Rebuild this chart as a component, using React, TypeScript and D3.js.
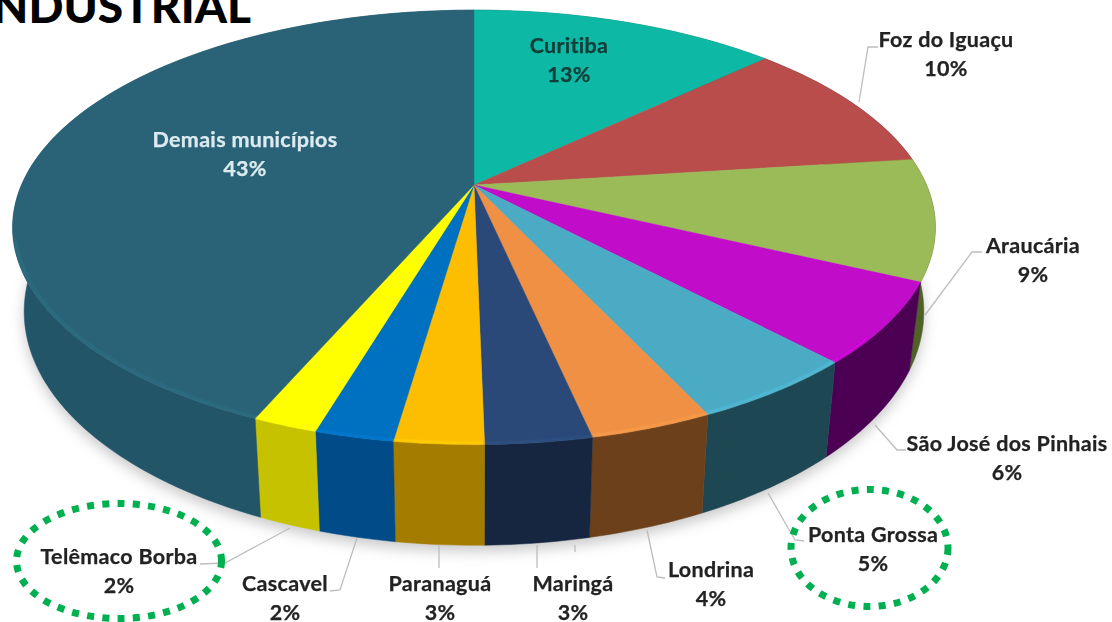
import React from "react";
import * as d3 from "d3";

const W = 1112;
const H = 622;

const municipalities = ["Curitiba", "Foz do Iguaçu", "Araucária", "São José dos Pinhais", "Ponta Grossa", "Londrina", "Maringá", "Paranaguá", "Cascavel", "Telêmaco Borba", "Demais municípios"];
const labels = ["13%", "10%", "9%", "6%", "5%", "4%", "3%", "3%", "2%", "2%", "43%"];
const shares = [13, 10, 9, 6, 5, 3.6, 3.1, 2.6, 2.3, 1.9, 43.5];
const topColors = ["#0cb9a5", "#b94e4b", "#9bbb59", "#c108c9", "#4babc5", "#f09044", "#2a4a78", "#fdbd00", "#0070c0", "#ffff00", "#2a6478"];
const wallColors = ["#08705f", "#6e2d2b", "#4f6228", "#4c0052", "#1f4653", "#6d401c", "#17263f", "#a47c00", "#004c88", "#c6c200", "#215468"];
const labelPos: [number, number][] = [[569, 53], [946, 47], [1033, 253], [1007, 451], [873, 542], [711, 577], [573, 591], [440, 591], [285, 591], [119, 564], [245, 147]];
const leaders: [number, number][][] = [
  [[859, 102], [868, 47], [878, 47]],
  [[925, 315], [972, 252], [982, 252]],
  [[875, 425], [897, 450], [906, 450]],
  [[768, 493], [795, 540], [804, 541]],
  [[647, 530], [657, 577], [665, 578]],
  [[537, 545], [537, 568]],
  [[575, 545], [575, 552]],
  [[439, 545], [439, 568]],
  [[357, 538], [340, 590], [330, 591]],
  [[290, 528], [225, 563], [200, 564]],
];
const highlights = [
  { cx: 119, cy: 561, rx: 102.5, ry: 57.5 },
  { cx: 869.5, cy: 548, rx: 78.5, ry: 58.5 },
];

const CX = 474, CY = 185, R = 452.5, B = 209, K = -0.195, DEPTH = 81, SHRINK = 0.975;

const topPoint = (a: number): [number, number] => {
  const X = Math.sin(a), Y = -Math.cos(a), f = 1 / (1 + K * Y);
  return [CX + R * X * f, CY + B * Y * f];
};
const bottomPoint = (a: number): [number, number] => {
  const Y = -Math.cos(a), f = 1 / (1 + K * Y);
  const [x, y] = topPoint(a);
  return [CX + SHRINK * (x - CX), y + DEPTH * f];
};
const samples = (a0: number, a1: number) => {
  const n = Math.max(2, Math.ceil(Math.abs(a1 - a0) / (Math.PI / 180)));
  return d3.range(n + 1).map((i) => a0 + ((a1 - a0) * i) / n);
};
const line = d3.line();

export default function App() {
  const arcs = d3.pie<number>().sort(null).startAngle(0).endAngle(2 * Math.PI)(shares);
  const textFont = "Lato, 'Noto Sans', sans-serif";
  return (
    <svg width={W} height={H} viewBox={`0 0 ${W} ${H}`} style={{ position: "absolute", left: 0, top: 0, background: "#fff" }}>
      <defs>
        <filter id="shadow" x="-10%" y="-10%" width="120%" height="120%"><feGaussianBlur stdDeviation="7" /></filter>
        <filter id="soft" x="-2%" y="-2%" width="104%" height="104%"><feGaussianBlur stdDeviation="0.6" /></filter>
        <filter id="rim" x="-5%" y="-5%" width="110%" height="110%"><feGaussianBlur stdDeviation="1.1" /></filter>
        <filter id="txt" x="-5%" y="-20%" width="110%" height="140%"><feGaussianBlur stdDeviation="0.35" /></filter>
      </defs>

      <path d={line(samples(0, 2 * Math.PI).map((a) => { const p = bottomPoint(a); return [p[0], p[1] + 6] as [number, number]; })) + "Z"} fill="#777" opacity={0.4} filter="url(#shadow)" />

      <g filter="url(#soft)">
        {arcs.map((d, i) => {
          const as = samples(d.startAngle, d.endAngle);
          const pts = [...as.map(topPoint), ...as.slice().reverse().map(bottomPoint)];
          return <path key={i} d={line(pts) + "Z"} fill={wallColors[i]} stroke={wallColors[i]} strokeWidth={0.5} />;
        })}
        {arcs.map((d, i) => {
          const as = samples(d.startAngle, d.endAngle);
          const pts: [number, number][] = [[CX, CY], ...as.map(topPoint)];
          return <path key={i} d={line(pts) + "Z"} fill={topColors[i]} stroke={topColors[i]} strokeWidth={0.4} />;
        })}
        {arcs.map((d, i) => {
          const as = samples(d.startAngle, d.endAngle).filter((a) => a > Math.PI * 0.72 && a < Math.PI * 1.42);
          if (as.length < 2) return null;
          const pts = as.map(topPoint).map(([x, y]) => [CX + (x - CX) * 0.996, y - 1.5] as [number, number]);
          return <path key={i} d={line(pts) ?? ""} fill="none" stroke={d3.color(topColors[i])!.brighter(0.5).formatHex()} strokeWidth={2} opacity={0.6} filter="url(#rim)" />;
        })}
      </g>

      <g fill="none" stroke="#bdbdbd" strokeWidth={1.3}>
        {leaders.map((l, i) => <path key={i} d={line(l) ?? ""} />)}
      </g>

      <g fontFamily={textFont} fontWeight={700} fontSize={21.5} letterSpacing={0.3} textAnchor="middle" filter="url(#txt)" strokeWidth={0.25}>
        {municipalities.map((m, i) => {
          const [x, y] = labelPos[i];
          const fill = i === 10 ? "#dcebf0" : i === 0 ? "#123c38" : "#222";
          return (
            <g key={m} fill={fill} stroke={fill}>
              <text x={x} y={y}>{m}</text>
              <text x={x} y={y + 28.5}>{labels[i]}</text>
            </g>
          );
        })}
      </g>

      <g fill="none" stroke="#00b050" strokeWidth={7} strokeDasharray="7 8.3">
        {highlights.map((h, i) => <ellipse key={i} cx={h.cx} cy={h.cy} rx={h.rx} ry={h.ry} />)}
      </g>

      <text x={251} y={23} textAnchor="end" fontFamily={textFont} fontWeight={900} fontSize={46} fill="#000">INDUSTRIAL</text>
    </svg>
  );
}
